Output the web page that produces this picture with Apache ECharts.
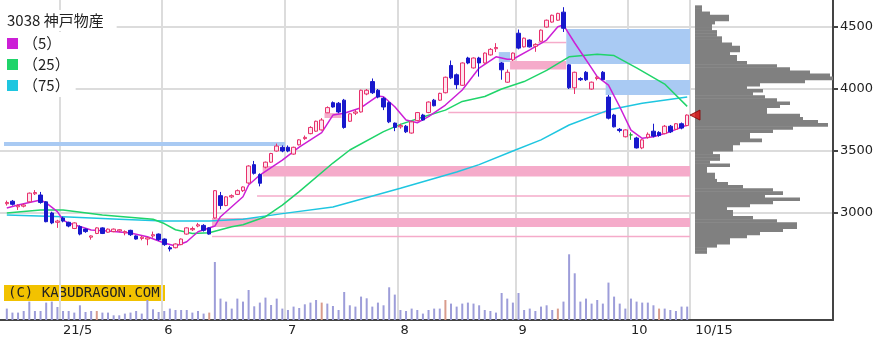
<!DOCTYPE html>
<html>
<head>
<meta charset="utf-8">
<title>3038 神戸物産</title>
<script src="https://cdn.jsdelivr.net/npm/echarts@6/dist/echarts.min.js"></script>
<style>
  html, body { margin: 0; padding: 0; background: #fff; }
  #chart { width: 894px; height: 354px; }
</style>
</head>
<body>
<div id="chart"></div>
<script>
// trading days shown on the chart
var dates = [
  '4/16','4/19','4/20','4/21','4/22','4/23','4/26','4/27','4/28','4/30',
  '5/6','5/7','5/10','5/11','5/12','5/13','5/14','5/17','5/18','5/19','5/20','5/21','5/24','5/25','5/26','5/27','5/28','5/31',
  '6/1','6/2','6/3','6/4','6/7','6/8','6/9','6/10','6/11','6/14','6/15','6/16','6/17','6/18','6/21','6/22','6/23','6/24','6/25','6/28','6/29','6/30',
  '7/1','7/2','7/5','7/6','7/7','7/8','7/9','7/12','7/13','7/14','7/15','7/16','7/19','7/20','7/21','7/26','7/27','7/28','7/29','7/30',
  '8/2','8/3','8/4','8/5','8/6','8/10','8/11','8/12','8/13','8/16','8/17','8/18','8/19','8/20','8/23','8/24','8/25','8/26','8/27','8/30','8/31',
  '9/1','9/2','9/3','9/6','9/7','9/8','9/9','9/10','9/13','9/14','9/15','9/16','9/17','9/21','9/22','9/24','9/27','9/28','9/29','9/30',
  '10/1','10/4','10/5','10/6','10/7','10/8','10/11','10/12','10/13','10/14','10/15'
];

// [open, close, low, high]
var prices = [
  [3075,3085,3060,3100],[3095,3070,3060,3105],[3050,3060,3025,3070],[3055,3065,3045,3075],[3090,3160,3085,3165],
  [3155,3165,3145,3185],[3145,3085,3075,3170],[3090,2930,2925,3095],[3000,2920,2910,3010],[2925,2935,2880,2945],
  [2960,2935,2925,2970],[2925,2895,2885,2930],[2875,2920,2870,2925],[2890,2830,2820,2900],[2870,2850,2840,2875],
  [2805,2815,2785,2820],[2835,2880,2830,2885],[2880,2835,2830,2885],[2845,2870,2840,2875],[2850,2870,2845,2875],
  [2855,2865,2845,2870],[2840,2850,2820,2860],[2860,2825,2815,2865],[2815,2790,2785,2820],[2795,2805,2780,2815],
  [2790,2800,2740,2805],[2815,2825,2800,2850],[2830,2785,2775,2835],[2790,2745,2735,2795],[2720,2710,2690,2735],
  [2720,2750,2715,2755],[2745,2790,2740,2795],[2830,2880,2825,2885],[2865,2875,2855,2890],[2895,2905,2885,2920],
  [2900,2860,2850,2910],[2880,2830,2825,2885],[2960,3180,2955,3185],[3140,3060,3030,3170],[3060,3130,3055,3135],
  [3130,3140,3120,3150],[3150,3180,3145,3190],[3180,3210,3170,3215],[3242,3379,3235,3385],[3390,3320,3310,3420],
  [3310,3240,3215,3320],[3370,3410,3360,3415],[3410,3480,3405,3485],[3500,3540,3495,3560],[3530,3500,3490,3545],
  [3530,3500,3490,3545],[3475,3530,3470,3535],[3550,3590,3545,3595],[3600,3610,3590,3625],[3640,3690,3635,3700],
  [3660,3740,3655,3745],[3670,3750,3665,3765],[3808,3850,3806,3860],[3890,3855,3850,3900],[3885,3815,3805,3895],
  [3910,3690,3680,3920],[3740,3800,3735,3805],[3805,3815,3790,3830],[3815,3990,3810,3995],[3960,3990,3950,4000],
  [4060,3970,3960,4085],[3990,3935,3925,4000],[3925,3855,3830,3935],[3890,3735,3725,3900],[3725,3690,3660,3730],
  [3695,3705,3680,3720],[3700,3655,3645,3710],[3645,3735,3640,3740],[3745,3810,3740,3815],[3790,3750,3745,3800],
  [3810,3895,3805,3900],[3910,3865,3860,3920],[3910,3965,3905,3970],[3970,4095,3965,4100],[4190,4090,4080,4230],
  [4115,4035,4000,4125],[4030,4210,4025,4215],[4250,4210,4200,4260],[4170,4250,4165,4255],[4250,4210,4100,4260],
  [4210,4290,4205,4295],[4275,4320,4270,4330],[4325,4335,4298,4370],[4210,4155,4075,4218],[4055,4135,4050,4157],
  [4235,4290,4226,4295],[4450,4330,4320,4480],[4340,4410,4335,4415],[4395,4340,4335,4400],[4345,4360,4300,4369],
  [4385,4475,4381,4480],[4500,4555,4495,4560],[4540,4595,4535,4600],[4555,4610,4550,4615],[4620,4490,4460,4660],
  [4195,4010,4000,4202],[4010,4135,3960,4140],[4085,4075,4065,4095],[4135,4075,4065,4145],[4000,4055,3995,4060],
  [4085,4095,4070,4105],[4135,4075,4073,4145],[3935,3765,3755,3952],[3790,3695,3690,3800],[3675,3665,3650,3685],
  [3615,3670,3610,3675],[3630,3630,3590,3650],[3605,3525,3520,3615],[3525,3590,3515,3595],[3610,3635,3600,3650],
  [3660,3620,3610,3720],[3650,3625,3615,3660],[3640,3700,3635,3710],[3700,3655,3645,3710],[3675,3720,3670,3725],
  [3720,3685,3675,3730],[3705,3790,3700,3795]
];

var volumes = [
  114,74,74,90,184,90,90,174,184,130,
  90,90,74,147,80,90,90,74,74,47,47,64,74,90,64,200,107,80,
  90,114,100,100,100,74,90,64,74,580,214,184,114,214,184,300,137,174,224,150,214,114,
  100,134,120,157,174,200,174,164,140,100,280,147,134,234,217,134,174,147,327,254,
  100,90,114,100,64,100,114,114,200,164,134,164,174,164,147,100,90,74,270,214,174,
  270,100,114,90,134,147,100,114,184,657,467,184,214,164,200,164,374,234,164,114,
  214,184,174,174,147,114,114,100,90,134,134
];
// SQ days: volume drawn in brown
var sqDates = ['5/14','6/11','7/9','8/13','9/10','10/8'];

var labelDates = ['5/6','6/1','7/1','8/2','9/1','10/1','10/15'];
var labelTexts = ['21/5','6','7','8','9','10','10/15'];

// moving averages
var ma5 = [
  ['4/16',3040],['4/20',3064],['4/26',3105],['4/27',3081],['4/30',3011],['5/6',2943],['5/7',2919],
  ['5/13',2863],['5/18',2855],['5/24',2839],['5/27',2809],['6/1',2758],['6/3',2734],['6/7',2768],
  ['6/9',2849],['6/14',2895],['6/15',2970],['6/21',3131],['6/22',3226],['6/24',3306],['6/30',3427],
  ['7/5',3532],['7/9',3648],['7/13',3790],['7/15',3804],['7/20',3849],['7/27',3944],['7/28',3938],
  ['7/30',3857],['8/3',3750],['8/5',3728],['8/10',3777],['8/13',3871],['8/18',3992],['8/23',4169],
  ['8/26',4260],['8/30',4240],['8/31',4240],['9/3',4315],['9/8',4395],['9/10',4502],['9/13',4516],
  ['9/15',4371],['9/21',4169],['9/22',4100],['9/27',4032],['9/29',3857],['10/1',3669],['10/5',3602],
  ['10/7',3615],['10/12',3656],['10/15',3710]
];
var ma25 = [
  ['4/16',3000],['4/26',3024],['5/6',3024],['5/17',2984],['5/28',2950],['6/1',2915],['6/3',2865],
  ['6/8',2835],['6/11',2840],['6/17',2889],['6/21',2905],['6/25',2970],['6/30',3064],['7/5',3172],
  ['7/13',3403],['7/16',3508],['7/28',3656],['8/2',3715],['8/6',3774],['8/13',3830],['8/18',3900],
  ['8/24',3940],['8/27',4000],['9/2',4060],['9/8',4150],['9/14',4260],['9/22',4280],['9/28',4270],
  ['10/4',4170],['10/11',4040],['10/15',3860]
];
var ma75 = [
  ['4/16',2984],['5/6',2970],['5/20',2950],['6/1',2935],['6/11',2935],['6/21',2950],['6/30',2995],
  ['7/13',3048],['8/2',3200],['8/17',3330],['8/23',3390],['8/31',3500],['9/7',3590],['9/14',3710],
  ['9/27',3830],['10/5',3885],['10/15',3935]
];

// open price gaps: [from, to, low, high]
var gapsUp = [
  ['6/14','10/15',2887,2960],['6/14','10/15',2804,2816],['6/24','10/15',3131,3143],
  ['6/25','10/15',3294,3379],['7/12','7/14',3766,3806],['8/16','9/24',3804,3816],
  ['8/31','9/13',4157,4226],['9/7','9/13',4369,4381]
];
var gapsDown = [
  ['4/16','6/30',3540,3572],['8/27','8/30',4218,4298],
  ['9/14','10/15',4202,4484],['9/27','10/15',3952,4073]
];

// volume by price (25 yen bins, lower edge)
var profileStep = 25;
var profilePrices = [
  4650,4625,4600,4575,4550,4525,4500,4475,4450,4425,4400,4375,4350,4325,4300,4275,4250,4225,4200,4175,
  4150,4125,4100,4075,4050,4025,4000,3975,3950,3925,3900,3875,3850,3825,3800,3775,3750,3725,3700,3675,
  3650,3625,3600,3575,3550,3525,3500,3475,3450,3425,3400,3375,3350,3325,3300,3275,3250,3225,3200,3175,
  3150,3125,3100,3075,3050,3025,3000,2975,2950,2925,2900,2875,2850,2825,2800,2775,2750,2725,2700,2675
];
var profileVolumes = [
  7,7,15,34,34,20,17,17,22,22,27,27,37,45,45,35,42,42,52,82,
  95,115,135,138,110,65,52,68,58,70,82,95,85,72,72,105,108,123,133,98,
  78,55,55,67,45,38,38,18,25,25,15,35,12,12,20,20,22,33,48,78,
  88,70,105,78,55,32,38,38,58,82,102,102,88,65,52,35,35,22,12,12
];

var priceMin = 3000, priceMax = 4718, priceStep = 500;
var gridColor = '#dcdcdc';
var labelFont = 'DejaVu Sans';

function zoneItem(color) {
  return function (params, api) {
    var a = api.coord([api.value(0), api.value(3)]);
    var b = api.coord([api.value(1), api.value(2)]);
    var band = api.size([1, 0])[0];
    return {
      type: 'rect',
      shape: { x: a[0] - band / 2, y: a[1], width: b[0] - a[0] + band, height: Math.max(b[1] - a[1], 1.5) },
      style: { fill: color }
    };
  };
}

function toZoneData(list) {
  return list.map(function (g) {
    return [dates.indexOf(g[0]), dates.indexOf(g[1]), g[2], g[3]];
  });
}

var volumeData = volumes.map(function (v, i) {
  var sq = sqDates.indexOf(dates[i]) >= 0;
  return { value: v, itemStyle: { color: sq ? '#d99c8c' : '#9d9dd9' } };
});

var profileData = profilePrices.map(function (p, i) { return [p, profileVolumes[i]]; });
var lastClose = prices[prices.length - 1][1];

var myChart = echarts.init(document.getElementById('chart'));
var option = {
  animation: false,
  backgroundColor: '#fff',
  title: {
    text: '3038 神戸物産',
    left: 0, top: 10,
    padding: [3, 13, 3, 7],
    backgroundColor: '#fff',
    textStyle: { fontSize: 15, fontWeight: 'normal', color: '#222', fontFamily: 'Noto Sans CJK JP' }
  },
  legend: {
    left: 0, top: 32,
    orient: 'vertical',
    padding: [4, 6, 4, 7],
    backgroundColor: '#fff',
    itemWidth: 11, itemHeight: 11, itemGap: 6,
    icon: 'rect',
    selectedMode: false,
    textStyle: { fontSize: 15, color: '#222', fontFamily: 'Noto Sans CJK JP' },
    data: ['（5）', '（25）', '（75）']
  },
  grid: [
    { left: 4, right: 204, top: 0, bottom: 34 },   // volume
    { left: 4, right: 204, top: 0, bottom: 141 },  // price
    { left: 695, right: 61, top: 0, bottom: 141 }, // volume by price
    { left: 0, right: 61, top: 0, bottom: 141 },   // price scale
    { left: 0, right: 61, top: 0, bottom: 34 }     // frame
  ],
  xAxis: [
    {
      gridIndex: 0, type: 'category', data: dates, boundaryGap: true,
      axisLine: { show: false }, axisTick: { show: false },
      axisLabel: {
        interval: function (i, v) { return labelDates.indexOf(v) >= 0; },
        formatter: function (v) {
          var k = labelDates.indexOf(v);
          return k === labelDates.length - 1 ? '{e|' + labelTexts[k] + '}' : labelTexts[k];
        },
        rich: { e: { padding: [0, 0, 0, 8], fontSize: 13, fontFamily: labelFont, color: '#222' } },
        align: 'left', margin: 4, fontSize: 13, fontFamily: labelFont, color: '#222'
      },
      splitLine: {
        show: true,
        interval: function (i, v) { return labelDates.indexOf(v) >= 0 && v !== '10/15'; },
        lineStyle: { color: gridColor, width: 2 }
      }
    },
    { gridIndex: 1, type: 'category', data: dates, boundaryGap: true, show: false },
    { gridIndex: 2, type: 'value', min: 0, max: 138, show: false },
    { gridIndex: 3, type: 'value', min: 0, max: 1, show: false },
    {
      gridIndex: 4, type: 'value', min: 0, max: 1,
      axisLine: { show: true, onZero: false, lineStyle: { color: '#444', width: 2 } },
      axisTick: { show: false }, axisLabel: { show: false }, splitLine: { show: false }
    }
  ],
  yAxis: [
    { gridIndex: 0, type: 'value', min: 0, max: 3200, show: false },
    { gridIndex: 1, type: 'value', min: priceMin, max: priceMax, show: false },
    { gridIndex: 2, type: 'value', min: priceMin, max: priceMax, show: false },
    {
      gridIndex: 3, type: 'value', min: priceMin, max: priceMax, interval: priceStep, position: 'right',
      axisLine: { show: false, onZero: false },
      axisTick: { show: true, length: 5, lineStyle: { color: '#444', width: 2 } },
      axisLabel: {
        margin: 7, fontSize: 13, fontFamily: labelFont, color: '#222', showMaxLabel: false,
        formatter: function (v) { return v % priceStep === 0 ? v : ''; }
      },
      splitLine: { show: true, showMaxLine: false, lineStyle: { color: gridColor, width: 2 } }
    },
    {
      gridIndex: 4, type: 'value', min: 0, max: 1, position: 'right',
      axisLine: { show: true, onZero: false, lineStyle: { color: '#444', width: 2 } },
      axisTick: { show: false }, axisLabel: { show: false }, splitLine: { show: false }
    }
  ],
  series: [
    {
      type: 'bar', name: 'volume', xAxisIndex: 0, yAxisIndex: 0,
      barWidth: 2, data: volumeData, z: 1
    },
    {
      type: 'custom', name: 'gapUp', xAxisIndex: 1, yAxisIndex: 1,
      renderItem: zoneItem('#f5abca'), encode: { x: [0, 1], y: [2, 3] },
      data: toZoneData(gapsUp), z: 1
    },
    {
      type: 'custom', name: 'gapDown', xAxisIndex: 1, yAxisIndex: 1,
      renderItem: zoneItem('#a9caf3'), encode: { x: [0, 1], y: [2, 3] },
      data: toZoneData(gapsDown), z: 1
    },
    {
      type: 'line', name: '（75）', xAxisIndex: 1, yAxisIndex: 1, data: ma75,
      showSymbol: false, clip: false, color: '#1ec6e0', lineStyle: { width: 1.5 }, z: 2
    },
    {
      type: 'line', name: '（25）', xAxisIndex: 1, yAxisIndex: 1, data: ma25,
      showSymbol: false, clip: false, color: '#1fd46a', lineStyle: { width: 1.5 }, z: 2
    },
    {
      type: 'line', name: '（5）', xAxisIndex: 1, yAxisIndex: 1, data: ma5,
      showSymbol: false, clip: false, color: '#cc1fd6', lineStyle: { width: 1.5 }, z: 2
    },
    {
      type: 'candlestick', name: 'price', xAxisIndex: 1, yAxisIndex: 1,
      data: prices, barWidth: 4, clip: false, z: 3,
      itemStyle: {
        color: '#fde6ee', color0: '#1818cc',
        borderColor: '#e8306c', borderColor0: '#1818cc',
        borderColorDoji: '#22aa33', borderWidth: 1
      }
    },
    {
      type: 'custom', name: 'profile', xAxisIndex: 2, yAxisIndex: 2,
      encode: { y: 0, x: 1 },
      renderItem: function (params, api) {
        var lo = api.value(0);
        var a = api.coord([0, lo + profileStep]);
        var b = api.coord([api.value(1), lo]);
        return {
          type: 'rect',
          shape: { x: a[0], y: a[1], width: b[0] - a[0], height: b[1] - a[1] + 0.5 },
          style: { fill: '#808080' }
        };
      },
      data: profileData, z: 1
    },
    {
      type: 'scatter', name: 'last', xAxisIndex: 2, yAxisIndex: 2,
      data: [[0, lastClose]], symbol: 'triangle', symbolRotate: 90, symbolSize: [10, 10],
      itemStyle: { color: '#dd1111', borderColor: '#880000', borderWidth: 1 }, z: 5
    }
  ],
  graphic: [
    {
      type: 'group', left: 4, top: 285, z: 10,
      children: [
        { type: 'rect', shape: { x: 0, y: 0, width: 161, height: 16 }, style: { fill: '#f2c200' } },
        {
          type: 'text', x: 4, y: 8,
          style: { text: '(C) KABUDRAGON.COM', font: '14px "DejaVu Sans Mono"', fill: '#222', verticalAlign: 'middle' }
        }
      ]
    }
  ]
};

myChart.setOption(option);
</script>
</body>
</html>
